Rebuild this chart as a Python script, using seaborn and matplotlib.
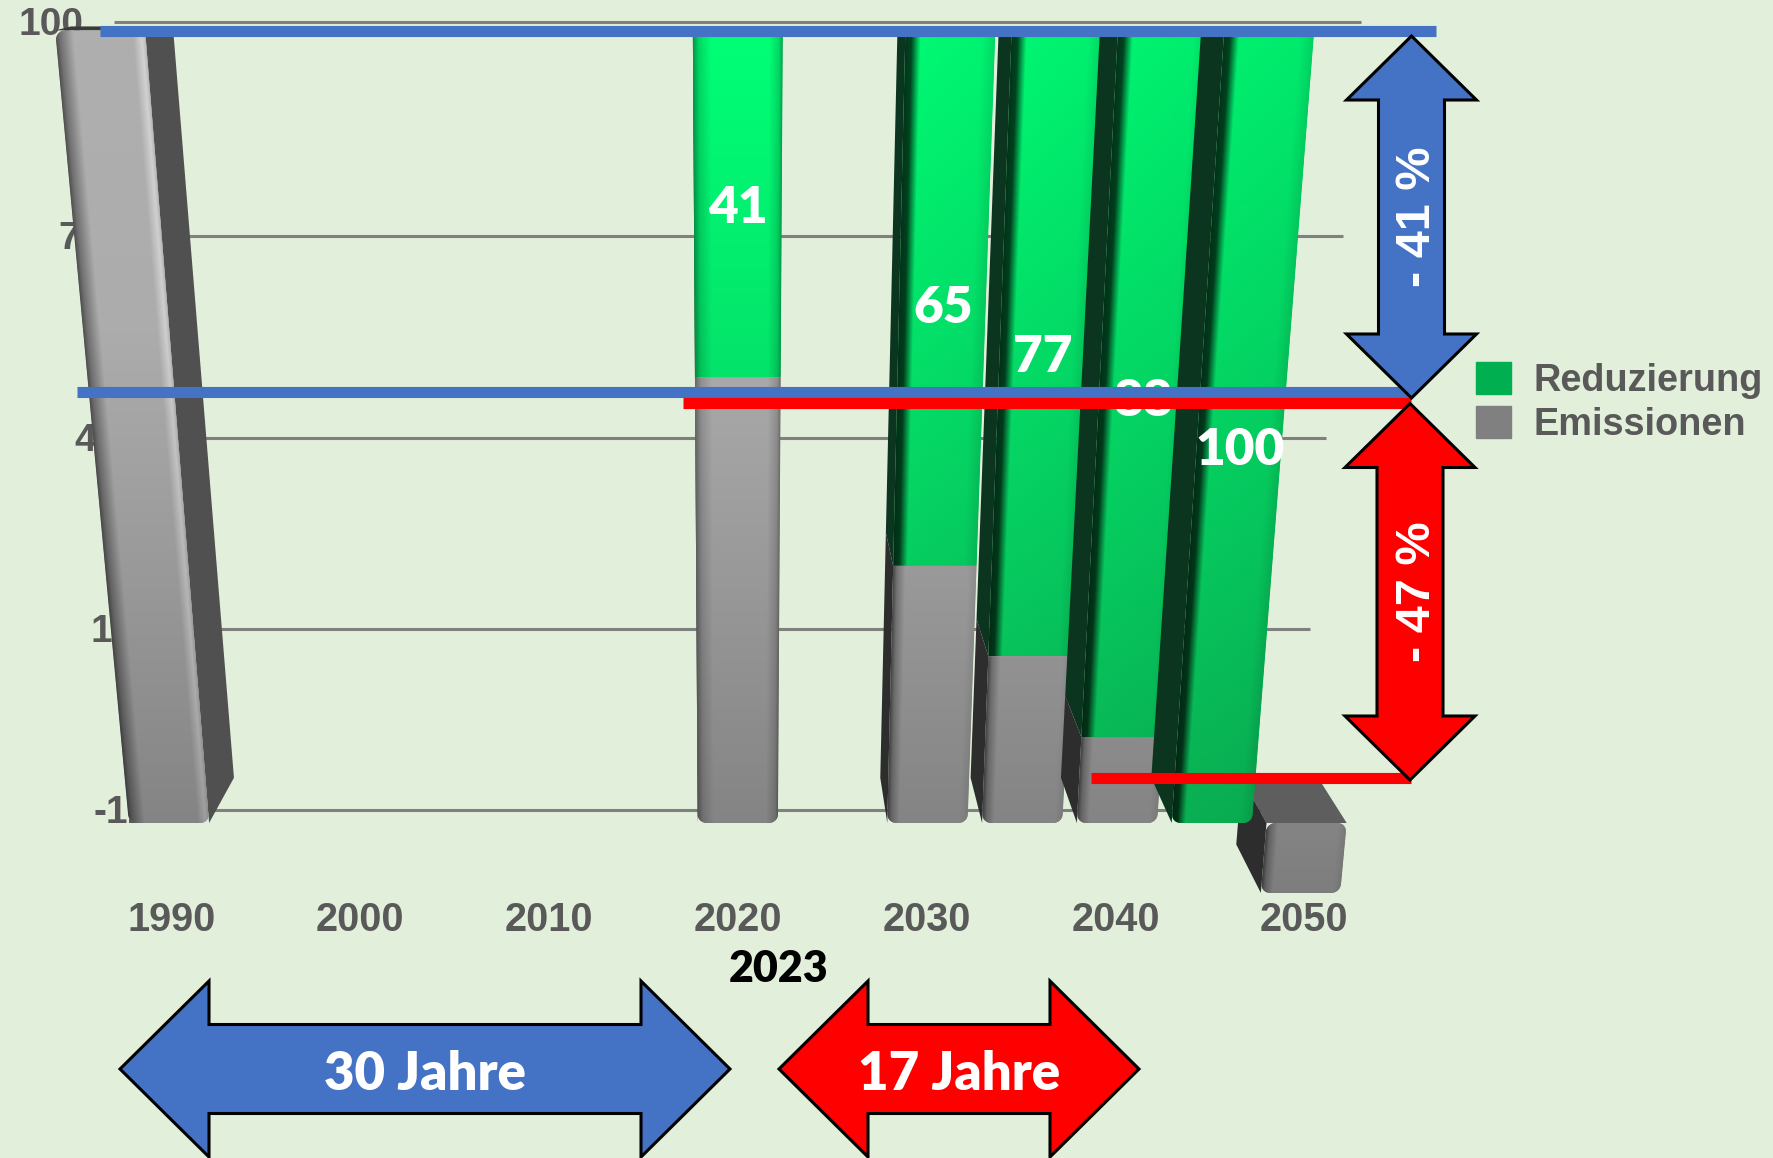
import numpy as np
import pandas as pd
import seaborn as sns
import matplotlib
matplotlib.use("Agg")
import matplotlib.pyplot as plt
from matplotlib.patches import Patch
from matplotlib.path import Path
from matplotlib.transforms import Affine2D, IdentityTransform, Transform

# values
years = [1990, 2020, 2030, 2035, 2040, 2045, 2050]
emissions = [100, 59, 35, 23, 12, 0, -10]
reductions = [0, 41, 65, 77, 88, 100, 0]
x_labels = [1990, 2000, 2010, 2020, 2030, 2040, 2050]
y_ticks = [100, 72, 44, 16, -12]
legend_labels = ["Reduzierung", "Emissionen"]

W, H = 1773, 1158
BG = "#E2EFDA"
GREY_TEXT = "#595959"
BLUE = "#4472C4"
RED = "#FF0000"
CX = 737.8
YEAR_PX = 18.96
BAR_WIDTH = 4.23
VANISH_Y = -139
DEPTH = 0.047


class Perspective(Transform):
    # (year, value) -> screen pixels, chart is tilted backwards
    input_dims = 2
    output_dims = 2
    is_separable = False

    def __init__(self, base, height, v0, span, b):
        super().__init__()
        self.base, self.height, self.v0, self.span, self.b = base, height, v0, span, b

    def transform_non_affine(self, values):
        values = np.asarray(values, dtype=float)
        f = (values[:, 1] - self.v0) / self.span
        w = 1 + self.b * f
        x = CX + (values[:, 0] - 2020) * YEAR_PX / w
        y = self.base - self.height * f * (1 + self.b) / w
        return np.column_stack([x, H - y])

    def f_from_y(self, y):
        h = self.base - y
        return h / (self.height * (1 + self.b) - h * self.b)


bar_tf = Perspective(823, 792.6, 0, 100, -0.108)
wall_tf = Perspective(809.6, 788, -12, 112, -0.106)
px = Affine2D().scale(1, -1).translate(0, H)


def project(year, value, depth=0):
    p = bar_tf.transform_non_affine([[year, value]])[0]
    x, y = p[0], H - p[1]
    return x + depth * DEPTH * (CX - x), y + depth * DEPTH * (VANISH_Y - y)


def profile(year, kind):
    if year < 2020:
        return [0, 0.05, 0.2, 0.86, 0.96, 1], [0.45, 0.65, 1, 1, 1.2, 1.05]
    if year == 2020:
        return [0, 0.07, 0.2, 0.85, 0.96, 1], [0.6, 0.85, 1, 1, 0.85, 0.65]
    if kind == "green":
        return [0, 0.07, 0.17, 0.85, 1], [0.22, 0.28, 1, 0.98, 0.88]
    return [0, 0.05, 0.15, 0.9, 1], [0.45, 0.75, 1, 1, 0.92]


def bar_image(year, lo, hi, kind):
    corners = [project(year + s * BAR_WIDTH / 2, v) for s in (-1, 1) for v in (lo, hi)]
    x0 = int(min(c[0] for c in corners)) - 2
    x1 = int(max(c[0] for c in corners)) + 3
    y0 = int(min(c[1] for c in corners)) - 2
    y1 = int(max(c[1] for c in corners)) + 3
    xx, yy = np.meshgrid(np.arange(x0, x1) + 0.5, np.arange(y0, y1) + 0.5)
    f = bar_tf.f_from_y(yy)
    w = 1 + bar_tf.b * f
    left = CX + (year - BAR_WIDTH / 2 - 2020) * YEAR_PX / w
    right = CX + (year + BAR_WIDTH / 2 - 2020) * YEAR_PX / w
    u = np.clip((xx - left) / (right - left), 0, 1)
    shade = np.interp(u, *profile(year, kind))
    f = np.clip(f, -0.2, 1)
    if kind == "green":
        fade = 1 - 0.06 * (year - 2020) / 25
        rgb = np.stack([
            10 - 10 * f,
            (186 + 69 * f) * shade * fade,
            (88 + 30 * f) * shade * fade,
        ], axis=-1)
        rgb[..., 0] *= shade
    else:
        grey = (132 + 0.62 * np.minimum(f, 0.65) * 100 + 8 * np.maximum(f - 0.65, 0)) * shade
        rgb = np.stack([grey, grey, grey], axis=-1)
    rgb = np.clip(rgb, 0, 255).astype(np.uint8)
    return rgb, (x0, x1, H - y1, H - y0)


def add_side(ax, year, lo, hi, color, z):
    edge = year + BAR_WIDTH / 2 if year < 2020 else year - BAR_WIDTH / 2
    pts = [project(edge, lo), project(edge, lo, 1), project(edge, hi, 1), project(edge, hi)]
    if hi == 100:
        pts[2] = (pts[2][0], max(pts[2][1], 27))
    ax.fill(*zip(*pts), color=color, lw=0, zorder=z, transform=px)


def add_top(ax, year, value, color, z, depth=1):
    a, b = year - BAR_WIDTH / 2, year + BAR_WIDTH / 2
    pts = [project(a, value), project(a, value, depth), project(b, value, depth), project(b, value)]
    ax.fill(*zip(*pts), color=color, lw=0, zorder=z, transform=px)


def rounded_rect(year, lo, hi, round_bottom, round_top, radius=9):
    # outline in (year, value), so the bars keep soft corners on the tilted plane
    a, b = year - BAR_WIDTH / 2, year + BAR_WIDTH / 2
    ru = radius / YEAR_PX
    y_lo, y_hi = project(year, lo)[1], project(year, hi)[1]
    rv = (hi - lo) * radius / abs(y_lo - y_hi)
    t = np.linspace(0, np.pi / 2, 7)
    pts = []
    if round_bottom:
        pts += [(a + ru - ru * np.cos(s), lo + rv - rv * np.sin(s)) for s in t]
        pts += [(b - ru + ru * np.sin(s), lo + rv - rv * np.cos(s)) for s in t]
    else:
        pts += [(a, lo), (b, lo)]
    if round_top:
        pts += [(b - ru + ru * np.cos(s), hi - rv + rv * np.sin(s)) for s in t]
        pts += [(a + ru - ru * np.sin(s), hi - rv + rv * np.cos(s)) for s in t]
    else:
        pts += [(b, hi), (a, hi)]
    pts.append(pts[0])
    return Path(np.array(pts))


def double_arrow(ax, a, b, cross, half_head, half_shaft, head, color, vertical=True, z=9):
    along = [a, a + head, a + head, b - head, b - head, b,
             b - head, b - head, a + head, a + head]
    off = [0, half_head, half_shaft, half_shaft, half_head, 0,
           -half_head, -half_shaft, -half_shaft, -half_head]
    across = [cross + o for o in off]
    xs, ys = (across, along) if vertical else (along, across)
    ax.fill(xs, ys, facecolor=color, edgecolor="black", lw=2.2, zorder=z,
            transform=px, joinstyle="miter", clip_on=False)


sns.set_theme(style="white")
plt.rcParams["font.family"] = ["Liberation Sans", "DejaVu Sans"]

fig = plt.figure(figsize=(W / 100, H / 100), dpi=100, facecolor=BG)
ax = fig.add_axes([0, 0, 1, 1])
ax.set_axis_off()

df = pd.DataFrame({"year": years, "emissions": emissions, "reductions": reductions})
df["total"] = df["emissions"] + df["reductions"]

# real bars, then moved onto the tilted plane
sns.barplot(data=df[df["reductions"] > 0], x="year", y="total", native_scale=True,
            width=BAR_WIDTH / 5, color="#00B050", saturation=1, ax=ax)
n_green = len(ax.patches)
sns.barplot(data=df[df["emissions"] != 0], x="year", y="emissions", native_scale=True,
            width=BAR_WIDTH / 5, color="#808080", saturation=1, ax=ax)
ax.set_xlim(1980, 2060)
ax.set_ylim(-20, 110)
ax.set_autoscale_on(False)
ax.set_axis_off()

draw_order = [2050, 1990, 2020, 2030, 2035, 2040, 2045]
for i, bar in enumerate(ax.patches):
    kind = "green" if i < n_green else "grey"
    year = int(round(bar.get_x() + bar.get_width() / 2))
    lo, hi = sorted([bar.get_y(), bar.get_y() + bar.get_height()])
    row = df[df["year"] == year].iloc[0]
    if kind == "green":
        lo = max(row["emissions"], 0)
        bar.set_y(lo)
        bar.set_height(hi - lo)
    z = 3 + draw_order.index(year) * 0.2
    z_front = z + (0.02 if kind == "green" else 0.06)
    bar.set_transform(bar_tf)
    bar.set_zorder(z_front)
    bar.set_linewidth(0)
    if kind == "green":
        add_side(ax, year, lo, hi, "#0C3520", z)
    elif year < 2020:
        add_side(ax, year, lo, hi, "#505050", z + 0.01)
    else:
        add_side(ax, year, lo, hi, "#2D2D2D", z + 0.01)
    if year == 1990:
        add_top(ax, year, 100, "#3A3A3A", z, depth=0.5)
    if year == 2050:
        add_top(ax, year, 0, "#5E5E5E", z)
    rgb, extent = bar_image(year, lo, hi, kind)
    im = ax.imshow(rgb, extent=extent, origin="upper", aspect="auto",
                   interpolation="nearest", transform=IdentityTransform(),
                   zorder=z_front + 0.01)
    outline = rounded_rect(year, lo, hi, lo <= 0, hi == 100 and year == 1990 or year == 2050)
    im.set_clip_path(outline, bar_tf)
    bar.set_clip_path(outline, bar_tf)

ax.set_xlim(1980, 2060)
ax.set_ylim(-20, 110)

# back wall grid and its labels
for tick in y_ticks:
    ax.plot([2020 - 29.4, 2020 + 29.4], [tick, tick], color="#808080", lw=2.2,
            transform=wall_tf, zorder=1, solid_capstyle="butt")
    p = wall_tf.transform_non_affine([[2020 - 29.4, tick]])[0]
    ax.text(p[0] - 31, H - p[1] + 3, str(tick), transform=px, ha="right", va="center",
            fontsize=28, fontweight="bold", color=GREY_TEXT, zorder=1.5)

for year in x_labels:
    ax.text(CX + (year - 2020) * 18.88, 920, str(year), transform=px, ha="center", va="center",
            fontsize=28.5, fontweight="bold", color=GREY_TEXT, zorder=2)

# values on the green parts
label_pos = {2020: 208, 2030: 308, 2035: 357, 2040: 401, 2045: 450}
label_x = {2020: 738, 2030: 943, 2035: 1043, 2040: 1143, 2045: 1240}
for year, value in zip(years, reductions):
    if value > 0:
        ax.text(label_x[year], label_pos[year], str(value), transform=px, ha="center", va="center",
                fontsize=37, fontweight="heavy", family="Lato", color="white", zorder=6)

# marker lines
for x0, x1, y, c in [(100, 1436, 30.5, BLUE), (77, 1411, 392, BLUE),
                     (683, 1411, 403, RED), (1091, 1411, 778, RED)]:
    ax.plot([x0, x1], [y, y], color=c, lw=8, transform=px, zorder=7, solid_capstyle="butt")

double_arrow(ax, 36, 398, 1411.5, 65, 33, 64, BLUE)
double_arrow(ax, 403.5, 780, 1410, 65, 33, 64, RED)
double_arrow(ax, 120, 730, 1069, 88, 44.5, 89, BLUE, vertical=False)
double_arrow(ax, 779, 1139, 1069, 88, 44.5, 89, RED, vertical=False)

ax.text(1417, 217, "- 41 %", transform=px, rotation=90, ha="center", va="center",
        fontsize=35, fontweight="bold", color="white", zorder=10)
ax.text(1417, 592, "- 47 %", transform=px, rotation=90, ha="center", va="center",
        fontsize=35, fontweight="bold", color="white", zorder=10)
ax.text(425, 1074, "30 Jahre", transform=px, ha="center", va="center",
        fontsize=38, fontweight="heavy", family="Lato", color="white", zorder=10)
ax.text(959, 1074, "17 Jahre", transform=px, ha="center", va="center",
        fontsize=38, fontweight="heavy", family="Lato", color="white", zorder=10)
ax.text(779, 969, "2023", transform=px, ha="center", va="center",
        fontsize=31, fontweight="heavy", family="Lato", color="black", zorder=10)

handles = [Patch(color="#00B050"), Patch(color="#808080")]
leg = ax.legend(handles, legend_labels, loc="upper left", frameon=False,
                bbox_to_anchor=(1476 / W, 1 - 362 / H), bbox_transform=fig.transFigure,
                borderpad=0, borderaxespad=0, handlelength=0.92, handleheight=0.92,
                handletextpad=0.6, labelspacing=0.19,
                prop={"size": 27.3, "weight": "bold", "family": "Liberation Sans"},
                labelcolor=GREY_TEXT)
leg.set_zorder(10)

fig.savefig("out.png", dpi=100, facecolor=BG)
